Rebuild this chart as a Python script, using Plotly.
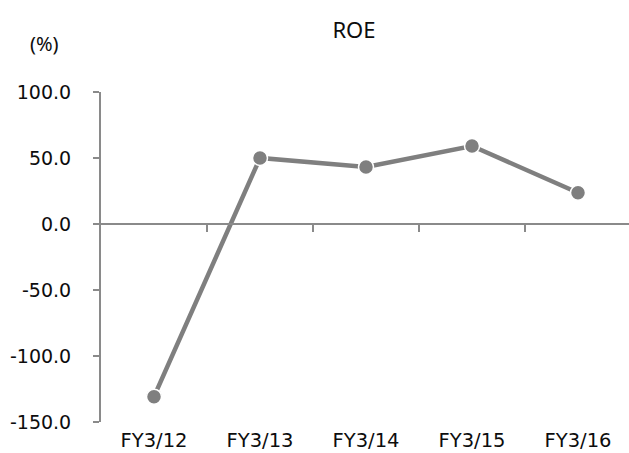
import plotly.graph_objects as go

# ROE by fiscal year (%)
years = ["FY3/12", "FY3/13", "FY3/14", "FY3/15", "FY3/16"]
roe = [-130.8, 50.0, 43.2, 59.1, 23.7]
y_ticks = [100, 50, 0, -50, -100, -150]
y_tick_text = [f"{v:.1f}" for v in y_ticks]  # plain hyphen for negatives

GRAY = "#7f7f7f"
AXIS = "#8a8a8a"
TEXT = "#0d0d0d"
FONT = "DejaVu Sans"

x_pos = list(range(len(years)))
y_min, y_max = -150, 100
x_range = [-0.5, -0.5 + 528 / 106]

fig = go.Figure()
fig.add_trace(go.Scatter(
    x=x_pos, y=roe, mode="lines+markers",
    line=dict(color=GRAY, width=4.5),
    marker=dict(size=15, color=GRAY, line=dict(color="white", width=1.5)),
    hoverinfo="skip", showlegend=False,
))
# companion trace so the zero-line axis (with boundary ticks) is drawn
fig.add_trace(go.Scatter(
    x=x_pos, y=roe, xaxis="x2", mode="markers",
    marker=dict(opacity=0), hoverinfo="skip", showlegend=False,
))

fig.update_layout(
    width=629, height=453,
    margin=dict(l=101, r=0, t=92, b=31),
    paper_bgcolor="white", plot_bgcolor="white",
    font=dict(family=FONT, size=19, color=TEXT),
    title=dict(text="ROE", x=354 / 629, xanchor="center", y=1 - 30 / 453,
               yanchor="middle", font=dict(family="Noto Sans", size=22, color=TEXT)),
    xaxis=dict(
        range=x_range, showline=False, showgrid=False, zeroline=False,
        automargin=False,
        tickmode="array", tickvals=x_pos, ticktext=years, ticks="",
        ticklabelstandoff=4, tickfont=dict(family=FONT, size=19.5, color=TEXT),
    ),
    xaxis2=dict(
        overlaying="x", anchor="free", position=(0 - y_min) / (y_max - y_min),
        range=x_range, showline=True, linecolor=AXIS, linewidth=2,
        showgrid=False, zeroline=False, showticklabels=False, automargin=False,
        tickmode="array", tickvals=[i + 0.5 for i in x_pos[:-1]],
        ticks="outside", ticklen=7, tickwidth=2, tickcolor=AXIS, side="bottom",
    ),
    yaxis=dict(
        range=[y_min, y_max], showline=True, linecolor=AXIS, linewidth=2,
        showgrid=False, zeroline=False, automargin=False,
        tickmode="array", tickvals=y_ticks, ticktext=y_tick_text,
        ticks="outside", ticklen=6, tickwidth=2, tickcolor=AXIS,
        ticklabelstandoff=18, tickfont=dict(family=FONT, size=19, color=TEXT),
    ),
    annotations=[dict(
        text="(%)", xref="paper", yref="paper", x=-57 / 528, y=1 + 48 / 330,
        xanchor="center", yanchor="middle", showarrow=False,
        font=dict(family="Noto Sans", size=20, color=TEXT),
    )],
)

fig.write_html("out.html")
